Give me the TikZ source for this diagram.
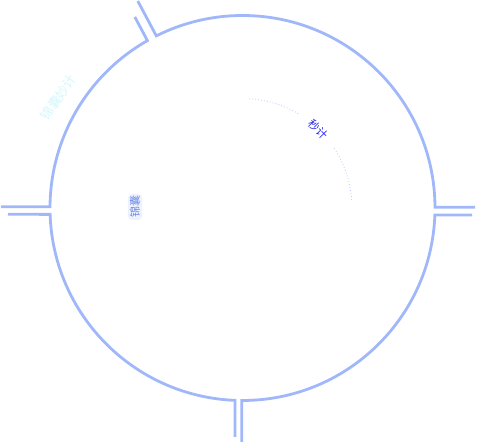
\documentclass[tikz,border=0pt]{standalone}
\usepackage{fontspec}
\newfontfamily\cjk{Noto Sans CJK SC}
\usetikzlibrary{calc}
\definecolor{ring}{RGB}{160,184,250}
\definecolor{dotc}{RGB}{196,208,248}
\definecolor{txtblue}{RGB}{40,40,235}
\definecolor{bagblue}{RGB}{110,140,232}
\definecolor{faint}{RGB}{214,246,250}
\definecolor{halo}{RGB}{238,242,253}
\tikzset{
  ringline/.style={draw=ring,line width=2.8pt,line cap=butt,line join=miter},
  dotarc/.style={draw=dotc,line width=0.8pt,dash pattern=on 1pt off 2pt},
}
\begin{document}
\begin{tikzpicture}[x=1pt,y=1pt]
\useasboundingbox (0,0) rectangle (477,443);
\coordinate (C) at (242.5,235);
\def\R{192.5pt}
% ring with four pipes
\draw[ringline] (475,235.7) -- ($(C)+(0.2:\R)$) arc[start angle=0.2,end angle=116.6,radius=\R] -- ++(118:39.5pt);
\draw[ringline] ($(C)+(119.6:\R)+(118:26.8pt)$) -- ($(C)+(119.6:\R)$) arc[start angle=119.6,end angle=179.6,radius=\R] -- (1,236.3);
\draw[ringline] (8,228.7) -- ($(C)+(181.9:\R)$) arc[start angle=181.9,end angle=267.77,radius=\R] -- (235,6);
\draw[ringline] (241.7,1) -- ($(C)+(269.76:\R)$) arc[start angle=269.76,end angle=357.9,radius=\R] -- (472,228);
% dotted inner arc
\draw[dotarc] ($(C)+(86.6:109.5pt)$) arc[start angle=86.6,end angle=59,radius=109.5pt];
\draw[dotarc] ($(C)+(33:109.5pt)$) arc[start angle=33,end angle=4.2,radius=109.5pt];
% labels
\node[text=txtblue,font=\cjk\fontsize{11}{11}\selectfont,rotate=-45,inner sep=0pt] (miaoji) at ($(C)+(46:109.5pt)$) {秒计};
\node[fill=halo,rounded corners=4pt,inner sep=2pt,text=bagblue,font=\cjk\fontsize{11}{11}\selectfont,rotate=90] (jinnang) at (135,236) {锦囊};
\node[text=faint,font=\cjk\fontsize{13}{13}\selectfont,rotate=55,inner sep=0pt] (title) at (58.5,345.5) {锦囊妙计};
\end{tikzpicture}
\end{document}
